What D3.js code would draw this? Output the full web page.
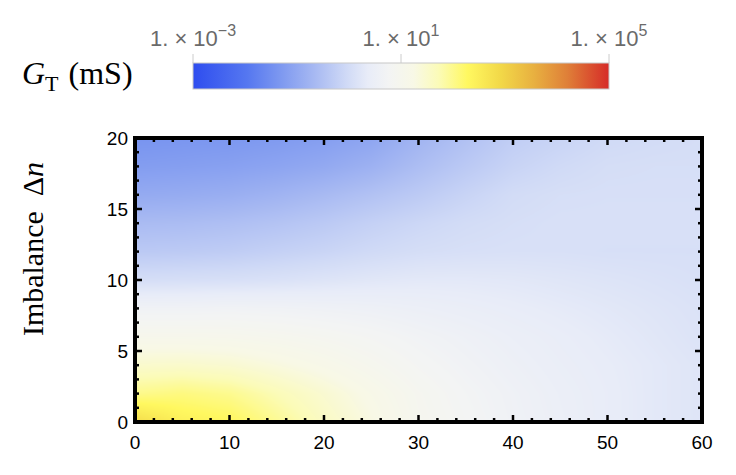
<!DOCTYPE html>
<html>
<head>
<meta charset="utf-8">
<script src="https://cdn.jsdelivr.net/npm/d3@7"></script>
<style>
  body { margin: 0; background: #fff; }
  svg { display: block; }
</style>
</head>
<body>
<div id="chart"></div>
<script>
// ---------- data ----------
// grid positions (x 0..60, y imbalance 20..0, top row first)
const xGrid = [0, 5, 10, 15, 20, 25, 30, 35, 40, 45, 50, 55, 60];
const yGrid = [20, 18, 16, 14, 12, 10, 8, 6, 4, 2, 0];
// log10 of G_T (mS)
const logG = [
  [-1.40, -1.37, -1.34, -1.28, -1.20, -1.06, -0.76, -0.52, -0.28, -0.16, -0.04, 0.00, 0.04],
  [-1.22, -1.19, -1.15, -1.08, -0.98, -0.82, -0.58, -0.36, -0.16, -0.04, 0.04, 0.06, 0.06],
  [-0.96, -0.93, -0.88, -0.78, -0.65, -0.50, -0.34, -0.16, 0.00, 0.06, 0.08, 0.08, 0.08],
  [-0.62, -0.60, -0.55, -0.47, -0.36, -0.22, -0.10, 0.00, 0.06, 0.10, 0.10, 0.10, 0.10],
  [-0.36, -0.34, -0.30, -0.22, -0.14, -0.04, 0.04, 0.08, 0.10, 0.10, 0.08, 0.08, 0.08],
  [0.04, 0.06, 0.08, 0.12, 0.18, 0.24, 0.28, 0.28, 0.26, 0.22, 0.18, 0.14, 0.10],
  [0.64, 0.64, 0.66, 0.64, 0.60, 0.56, 0.50, 0.44, 0.38, 0.32, 0.26, 0.20, 0.14],
  [1.06, 1.06, 1.04, 0.98, 0.90, 0.80, 0.68, 0.58, 0.48, 0.40, 0.32, 0.24, 0.16],
  [1.50, 1.52, 1.46, 1.32, 1.16, 0.98, 0.80, 0.66, 0.54, 0.44, 0.36, 0.28, 0.20],
  [2.00, 2.08, 1.98, 1.72, 1.46, 1.18, 0.92, 0.74, 0.60, 0.48, 0.38, 0.28, 0.20],
  [2.84, 2.44, 2.32, 1.96, 1.60, 1.28, 0.96, 0.78, 0.62, 0.50, 0.38, 0.28, 0.20]
];

// colour map (fraction along bar -> colour)
const cmapPos = [0, 0.13, 0.21, 0.29, 0.37, 0.42, 0.47, 0.53, 0.59, 0.66, 0.74, 0.82, 0.90, 1];
const cmapCol = ["#2e4def", "#5577f0", "#7d98f0", "#a6b8f2", "#d0daf6", "#e8ecf8", "#f3f4f4",
                 "#f8f8e6", "#fbfbb8", "#fff860", "#f2d848", "#e8b040", "#df7f38", "#d62b28"];
const cbarDomain = [1e-3, 1e5];
const cbarTicks = [1e-3, 1e1, 1e5];

const xTicks = [0, 10, 20, 30, 40, 50, 60];
const yTicks = [0, 5, 10, 15, 20];

// ---------- layout ----------
const W = 736, H = 475;
const plot = { left: 135, right: 702, top: 138, bottom: 422 };
const bar = { left: 193, right: 609, top: 63, bottom: 89 };

const svg = d3.select("#chart").append("svg")
  .attr("width", W).attr("height", H)
  .attr("viewBox", `0 0 ${W} ${H}`);

const x = d3.scaleLinear().domain([0, 60]).range([plot.left, plot.right]);
const y = d3.scaleLinear().domain([0, 20]).range([plot.bottom, plot.top]);

const lo = Math.log10(cbarDomain[0]), hi = Math.log10(cbarDomain[1]);
const color = d3.scaleLinear()
  .domain(cmapPos.map(t => lo + t * (hi - lo)))
  .range(cmapCol)
  .clamp(true);

// ---------- heatmap (smooth shading between grid values) ----------
const pw = plot.right - plot.left, ph = plot.bottom - plot.top;
const cv = document.createElement("canvas");
cv.width = pw; cv.height = ph;
const ctx = cv.getContext("2d");
const img = ctx.createImageData(pw, ph);
const xi = d3.scaleLinear().domain(d3.extent(xGrid)).range([0, xGrid.length - 1]).clamp(true);
const yi = d3.scaleLinear().domain([yGrid[0], yGrid[yGrid.length - 1]]).range([0, yGrid.length - 1]).clamp(true);
const nxm = xGrid.length - 1, nym = yGrid.length - 1;
for (let py = 0; py < ph; py++) {
  const fy = yi(y.invert(plot.top + py + 0.5));
  const j0 = Math.min(Math.floor(fy), nym - 1), ty = fy - j0;
  for (let px = 0; px < pw; px++) {
    const fx = xi(x.invert(plot.left + px + 0.5));
    const i0 = Math.min(Math.floor(fx), nxm - 1), tx = fx - i0;
    const v = (1 - ty) * ((1 - tx) * logG[j0][i0] + tx * logG[j0][i0 + 1]) +
              ty * ((1 - tx) * logG[j0 + 1][i0] + tx * logG[j0 + 1][i0 + 1]);
    const c = d3.rgb(color(v));
    const k = (py * pw + px) * 4;
    img.data[k] = c.r; img.data[k + 1] = c.g; img.data[k + 2] = c.b; img.data[k + 3] = 255;
  }
}
ctx.putImageData(img, 0, 0);

svg.append("image")
  .attr("href", cv.toDataURL())
  .attr("preserveAspectRatio", "none")
  .attr("x", plot.left).attr("y", plot.top)
  .attr("width", pw).attr("height", ph);

// ---------- frame ticks ----------
const tickG = svg.append("g").attr("stroke", "#000").attr("stroke-width", 2.5);
d3.range(0, 61, 2).forEach(v => {
  const len = v % 10 === 0 ? 7 : 4;
  tickG.append("line").attr("x1", x(v)).attr("x2", x(v)).attr("y1", plot.bottom).attr("y2", plot.bottom - len);
  tickG.append("line").attr("x1", x(v)).attr("x2", x(v)).attr("y1", plot.top).attr("y2", plot.top + len);
});
d3.range(0, 21, 1).forEach(v => {
  const len = v % 5 === 0 ? 7 : 4;
  tickG.append("line").attr("y1", y(v)).attr("y2", y(v)).attr("x1", plot.left).attr("x2", plot.left + len);
  tickG.append("line").attr("y1", y(v)).attr("y2", y(v)).attr("x1", plot.right).attr("x2", plot.right - len);
});

svg.append("rect")
  .attr("x", plot.left).attr("y", plot.top)
  .attr("width", pw).attr("height", ph)
  .attr("fill", "none").attr("stroke", "#000").attr("stroke-width", 4);

// tick labels
svg.append("g").selectAll("text").data(xTicks).join("text")
  .attr("x", d => x(d)).attr("y", plot.bottom + 27)
  .attr("text-anchor", "middle")
  .attr("font-family", "Liberation Sans, Arial, sans-serif")
  .attr("font-size", 19)
  .text(d => d);

svg.append("g").selectAll("text").data(yTicks).join("text")
  .attr("x", plot.left - 7).attr("y", d => y(d) + 7)
  .attr("text-anchor", "end")
  .attr("font-family", "Liberation Sans, Arial, sans-serif")
  .attr("font-size", 19)
  .text(d => d);

// y axis title
const yTitle = svg.append("text")
  .attr("transform", `translate(43, 249) rotate(-90)`)
  .attr("text-anchor", "middle")
  .attr("font-family", "Liberation Serif, Times New Roman, serif")
  .attr("font-size", 30);
yTitle.append("tspan").text("Imbalance\u2002\u0394");
yTitle.append("tspan").attr("font-style", "italic").text("n");

// ---------- colour bar ----------
const defs = svg.append("defs");
const grad = defs.append("linearGradient").attr("id", "cbarGrad")
  .attr("x1", "0%").attr("x2", "100%").attr("y1", "0%").attr("y2", "0%");
cmapPos.forEach((t, i) => {
  grad.append("stop").attr("offset", t * 100 + "%").attr("stop-color", cmapCol[i]);
});

const cbx = d3.scaleLog().domain(cbarDomain).range([bar.left, bar.right]);

svg.append("g").selectAll("line").data(cbarTicks).join("line")
  .attr("x1", d => cbx(d)).attr("x2", d => cbx(d))
  .attr("y1", bar.top - 9).attr("y2", bar.top)
  .attr("stroke", "#ccc").attr("stroke-width", 1);

svg.append("rect")
  .attr("x", bar.left).attr("y", bar.top)
  .attr("width", bar.right - bar.left).attr("height", bar.bottom - bar.top)
  .attr("fill", "url(#cbarGrad)")
  .attr("stroke", "#c8c8c8").attr("stroke-width", 1);

const cbLabels = svg.append("g").selectAll("text").data(cbarTicks).join("text")
  .attr("x", d => cbx(d)).attr("y", 46)
  .attr("text-anchor", "middle")
  .attr("font-family", "Liberation Sans, Arial, sans-serif")
  .attr("font-size", 22)
  .attr("fill", "#6a6a6a");
cbLabels.append("tspan").text("1. \u00d7 10");
cbLabels.append("tspan")
  .attr("font-size", 16).attr("dy", -10)
  .text(d => String(Math.round(Math.log10(d))).replace("-", "\u2212"));

// colour bar title  G_T (mS)
const cbTitle = svg.append("text")
  .attr("x", 22).attr("y", 84)
  .attr("font-family", "Liberation Serif, Times New Roman, serif")
  .attr("font-size", 32);
cbTitle.append("tspan").attr("font-style", "italic").text("G");
cbTitle.append("tspan").attr("font-size", 22).attr("dy", 7).text("T");
cbTitle.append("tspan").attr("dy", -7).attr("dx", 10).text("(mS)");
</script>
</body>
</html>
